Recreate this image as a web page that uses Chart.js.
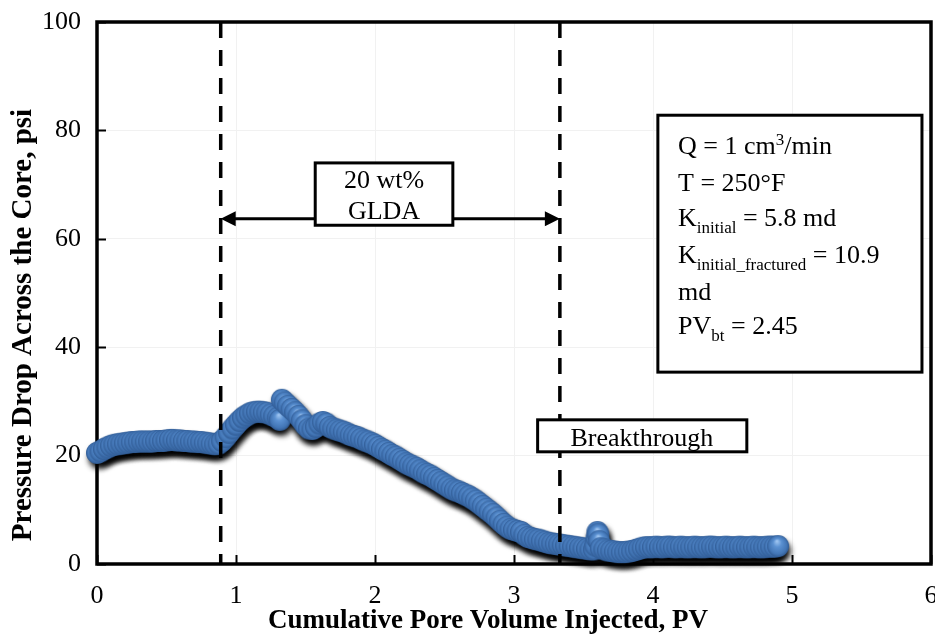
<!DOCTYPE html>
<html>
<head>
<meta charset="utf-8">
<script src="https://cdn.jsdelivr.net/npm/chart.js@4.4.1/dist/chart.umd.min.js"></script>
<style>
  html, body { margin: 0; padding: 0; background: #fff; }
  #wrap { width: 935px; height: 639px; }
</style>
</head>
<body>
<div id="wrap"><canvas id="c" width="935" height="639"></canvas></div>
<script>
// Cumulative pore volume injected (PV)
const pvInjected = [
  0.000,0.025,0.050,0.075,0.100,0.125,0.150,0.175,0.200,0.225,0.250,0.275,0.300,0.325,0.350,0.375,0.400,0.425,
  0.450,0.475,0.500,0.525,0.550,0.575,0.600,0.625,0.650,0.675,0.700,0.725,0.750,0.775,0.800,0.825,0.850,0.875,
  0.900,0.925,0.950,0.975,1.000,1.025,1.050,1.075,1.100,1.125,1.150,1.175,1.200,1.225,1.250,1.275,1.300,1.315,
  1.330,1.350,1.375,1.400,1.425,1.450,1.475,1.500,1.525,1.550,1.575,1.600,1.625,1.650,1.675,1.700,1.725,1.750,
  1.775,1.800,1.825,1.850,1.875,1.900,1.925,1.950,1.975,2.000,2.025,2.050,2.075,2.100,2.125,2.150,2.175,2.200,
  2.225,2.250,2.275,2.300,2.325,2.350,2.375,2.400,2.425,2.450,2.475,2.500,2.525,2.550,2.575,2.600,2.625,2.650,
  2.675,2.700,2.725,2.750,2.775,2.800,2.825,2.850,2.875,2.900,2.925,2.950,2.975,3.000,3.025,3.050,3.075,3.100,
  3.125,3.150,3.175,3.200,3.225,3.250,3.275,3.300,3.325,3.350,3.375,3.400,3.425,3.450,3.475,3.500,3.525,3.550,
  3.575,3.585,3.594,3.600,3.606,3.613,
  3.625,3.650,3.675,3.700,3.725,3.750,3.775,3.800,3.825,3.850,3.875,3.900,3.925,3.950,3.975,4.000,4.025,4.050,
  4.075,4.100,4.125,4.150,4.175,4.200,4.225,4.250,4.275,4.300,4.325,4.350,4.375,4.400,4.425,4.450,4.475,4.500,
  4.525,4.550,4.575,4.600,4.625,4.650,4.675,4.700,4.725,4.750,4.775,4.800,4.825,4.850,4.875,4.900
];

// Pressure drop across the core (psi)
const pressureDrop = [
  20.5,20.8,21.2,21.5,21.8,22.0,22.1,22.2,22.3,22.4,22.5,22.5,22.6,22.6,22.6,22.6,22.6,22.7,
  22.7,22.7,22.8,22.9,22.9,22.8,22.8,22.7,22.7,22.6,22.6,22.5,22.5,22.4,22.3,22.2,22.1,22.2,
  22.7,23.4,24.2,25.0,25.7,26.4,27.0,27.4,27.8,28.0,28.1,28.1,28.0,27.9,27.6,27.3,27.0,26.6,
  30.3,29.8,29.2,28.6,28.0,27.3,26.5,25.6,25.0,24.9,25.3,25.9,26.2,25.9,25.3,25.0,24.8,24.6,
  24.4,24.1,23.8,23.6,23.4,23.1,22.8,22.6,22.3,22.0,21.6,21.2,20.9,20.5,20.1,19.8,19.4,19.0,
  18.6,18.3,18.0,17.7,17.3,16.9,16.6,16.3,15.9,15.5,15.1,14.7,14.3,13.9,13.6,13.4,13.1,12.8,
  12.5,12.1,11.7,11.2,10.7,10.2,9.7,9.2,8.6,8.0,7.4,6.9,6.5,6.3,6.1,5.9,5.4,5.0,
  4.8,4.6,4.5,4.3,4.1,3.9,3.8,3.7,3.6,3.5,3.4,3.3,3.2,3.1,3.0,2.9,2.8,2.7,
  2.7,3.4,4.8,5.9,5.5,4.2,
  2.9,2.7,2.5,2.4,2.3,2.2,2.2,2.2,2.3,2.4,2.6,2.8,3.0,3.1,3.1,3.1,3.2,3.1,
  3.1,3.2,3.2,3.1,3.1,3.2,3.1,3.1,3.1,3.2,3.1,3.1,3.1,3.2,3.2,3.1,3.1,3.1,
  3.2,3.1,3.1,3.1,3.2,3.1,3.1,3.1,3.2,3.1,3.1,3.1,3.2,3.2,3.2,3.3
];

// Axis ranges, tick steps and titles
const xRange = [0, 6];
const yRange = [0, 100];
const xStep = 1;
const yStep = 20;
const xTitle = 'Cumulative Pore Volume Injected, PV';
const yTitle = 'Pressure Drop Across the Core, psi';

// Injection window and annotation values
const gldaStartPV = 0.89;
const breakthroughPV = 3.33;
const arrowPsi = 63.7;
const gldaLabel = ['20 wt%', 'GLDA'];
const breakthroughLabel = 'Breakthrough';
const infoLines = [
  [{t: 'Q = 1 cm'}, {t: '3', sup: true}, {t: '/min'}],
  [{t: 'T = 250°F'}],
  [{t: 'K'}, {t: 'initial', sub: true}, {t: ' = 5.8 md'}],
  [{t: 'K'}, {t: 'initial_fractured', sub: true}, {t: ' = 10.9'}],
  [{t: 'md'}],
  [{t: 'PV'}, {t: 'bt', sub: true}, {t: ' = 2.45'}]
];

const SERIF = '"Liberation Serif", "Times New Roman", Times, serif';
const BALL_R = 11;

// Shaded sphere used as the marker
function makeBall(r) {
  const s = Math.ceil(r * 2 + 2);
  const c = document.createElement('canvas');
  c.width = s; c.height = s;
  const g = c.getContext('2d');
  const cx = s / 2, cy = s / 2;
  const grad = g.createRadialGradient(cx - r * 0.1, cy - r * 0.45, r * 0.05, cx, cy, r);
  grad.addColorStop(0, '#9cc3f0');
  grad.addColorStop(0.35, '#5b91d2');
  grad.addColorStop(0.8, '#4376b6');
  grad.addColorStop(1, '#305b94');
  g.fillStyle = grad;
  g.beginPath(); g.arc(cx, cy, r, 0, Math.PI * 2); g.fill();
  return c;
}

// Soft dark blob offset downward, drawn under the markers
function makeShadow(r) {
  const pad = 12;
  const s = Math.ceil(r * 2 + pad * 2);
  const c = document.createElement('canvas');
  c.width = s; c.height = s;
  const g = c.getContext('2d');
  g.filter = 'blur(3px)';
  g.fillStyle = 'rgba(0,0,0,0.85)';
  g.beginPath(); g.arc(s / 2 + 2, s / 2 + 5, r * 0.95, 0, Math.PI * 2); g.fill();
  return c;
}

const points = pvInjected.map((x, i) => ({x, y: pressureDrop[i]}));

const framePlugin = {
  id: 'frame',
  beforeDatasetsDraw(chart) {
    const {ctx, chartArea: a, scales: {x, y}} = chart;
    ctx.save();
    ctx.strokeStyle = '#000';
    ctx.lineWidth = 2;
    ctx.beginPath();
    x.ticks.forEach(t => {
      const px = Math.round(x.getPixelForValue(t.value)) + 0.5;
      ctx.moveTo(px, a.bottom); ctx.lineTo(px, a.bottom - 9);
    });
    y.ticks.forEach(t => {
      const py = Math.round(y.getPixelForValue(t.value)) + 0.5;
      ctx.moveTo(a.left, py); ctx.lineTo(a.left + 9, py);
    });
    ctx.stroke();
    ctx.lineWidth = 3.5;
    ctx.strokeRect(a.left, a.top, a.right - a.left, a.bottom - a.top);

    // Axis titles
    ctx.fillStyle = '#000';
    ctx.textAlign = 'center';
    ctx.textBaseline = 'middle';
    ctx.font = 'bold 27px ' + SERIF;
    ctx.fillText(xTitle, 488, 621);
    ctx.save();
    ctx.translate(24, 325);
    ctx.rotate(-Math.PI / 2);
    ctx.font = 'bold 29px ' + SERIF;
    ctx.fillText(yTitle, 0, 0);
    ctx.restore();
    ctx.restore();
  }
};

function richLine(ctx, x, y, parts, size) {
  let cx = x;
  for (const p of parts) {
    const small = p.sub || p.sup;
    ctx.font = (small ? Math.round(size * 0.66) : size) + 'px ' + SERIF;
    const dy = p.sub ? size * 0.28 : (p.sup ? -size * 0.36 : 0);
    ctx.fillText(p.t, cx, y + dy);
    cx += ctx.measureText(p.t).width;
  }
}

function labelBox(ctx, x0, y0, x1, y1) {
  ctx.fillStyle = '#fff';
  ctx.fillRect(x0, y0, x1 - x0, y1 - y0);
  ctx.strokeRect(x0, y0, x1 - x0, y1 - y0);
}

const notesPlugin = {
  id: 'notes',
  afterDatasetsDraw(chart) {
    const {ctx, scales: {x, y}} = chart;
    ctx.save();
    ctx.strokeStyle = '#000';
    ctx.fillStyle = '#000';

    // Dashed markers for the start of GLDA injection and breakthrough
    ctx.lineWidth = 3.5;
    ctx.setLineDash([16, 12]);
    [gldaStartPV, breakthroughPV].forEach(v => {
      const px = x.getPixelForValue(v);
      ctx.beginPath();
      ctx.moveTo(px, y.getPixelForValue(yRange[1]));
      ctx.lineTo(px, y.getPixelForValue(yRange[0]));
      ctx.stroke();
    });
    ctx.setLineDash([]);

    // Double-headed arrow spanning the injection window
    const ax0 = x.getPixelForValue(gldaStartPV);
    const ax1 = x.getPixelForValue(breakthroughPV);
    const ay = y.getPixelForValue(arrowPsi);
    ctx.lineWidth = 3;
    ctx.beginPath();
    ctx.moveTo(ax0 + 12, ay); ctx.lineTo(ax1 - 12, ay);
    ctx.stroke();
    ctx.beginPath();
    ctx.moveTo(ax0, ay); ctx.lineTo(ax0 + 15, ay - 7.5); ctx.lineTo(ax0 + 15, ay + 7.5); ctx.closePath();
    ctx.moveTo(ax1, ay); ctx.lineTo(ax1 - 15, ay - 7.5); ctx.lineTo(ax1 - 15, ay + 7.5); ctx.closePath();
    ctx.fill();

    ctx.lineWidth = 3;
    ctx.textAlign = 'center';
    ctx.textBaseline = 'alphabetic';

    // "20 wt% GLDA" label
    labelBox(ctx, x.getPixelForValue(1.57), y.getPixelForValue(74.0),
                  x.getPixelForValue(2.56), y.getPixelForValue(62.5));
    ctx.fillStyle = '#000';
    ctx.font = '26px ' + SERIF;
    const gx = x.getPixelForValue(2.065);
    ctx.fillText(gldaLabel[0], gx, y.getPixelForValue(69.3));
    ctx.fillText(gldaLabel[1], gx, y.getPixelForValue(63.6));

    // "Breakthrough" label
    labelBox(ctx, x.getPixelForValue(3.17), y.getPixelForValue(26.6),
                  x.getPixelForValue(4.675), y.getPixelForValue(20.7));
    ctx.fillStyle = '#000';
    ctx.fillText(breakthroughLabel, x.getPixelForValue(3.92), y.getPixelForValue(21.8));

    // Test conditions box
    labelBox(ctx, x.getPixelForValue(4.035), y.getPixelForValue(82.8),
                  x.getPixelForValue(5.935), y.getPixelForValue(35.4));
    ctx.fillStyle = '#000';
    ctx.textAlign = 'left';
    const baselines = [75.6, 68.8, 62.4, 55.5, 48.7, 42.4];
    const tx = x.getPixelForValue(4.18);
    infoLines.forEach((parts, i) => richLine(ctx, tx, y.getPixelForValue(baselines[i]), parts, 26));

    ctx.restore();
  }
};

new Chart(document.getElementById('c'), {
  type: 'scatter',
  data: {
    datasets: [
      {
        label: 'Pressure drop',
        data: points,
        pointStyle: makeBall(BALL_R),
        pointRadius: BALL_R,
        showLine: false,
        clip: false,
        order: 0
      },
      {
        label: 'shade',
        data: points,
        pointStyle: makeShadow(BALL_R),
        pointRadius: BALL_R,
        showLine: false,
        clip: false,
        order: 1
      }
    ]
  },
  options: {
    responsive: false,
    animation: false,
    events: [],
    layout: { autoPadding: false, padding: { top: 22, right: 4, left: 0, bottom: 0 } },
    plugins: { legend: { display: false }, tooltip: { enabled: false } },
    scales: {
      x: {
        type: 'linear',
        min: xRange[0], max: xRange[1],
        afterFit(s) { s.height = 75; s.paddingLeft = 0; s.paddingRight = 0; },
        border: { display: false },
        grid: { color: '#f1f1f1', drawTicks: false },
        ticks: { stepSize: xStep, color: '#000', padding: 17, font: { family: SERIF, size: 26 } },
        title: { display: false }
      },
      y: {
        type: 'linear',
        min: yRange[0], max: yRange[1],
        afterFit(s) { s.width = 97; s.paddingTop = 0; s.paddingBottom = 0; },
        border: { display: false },
        grid: { color: '#f1f1f1', drawTicks: false },
        ticks: { stepSize: yStep, color: '#000', padding: 16, font: { family: SERIF, size: 26 } },
        title: { display: false }
      }
    }
  },
  plugins: [framePlugin, notesPlugin]
});
</script>
</body>
</html>
